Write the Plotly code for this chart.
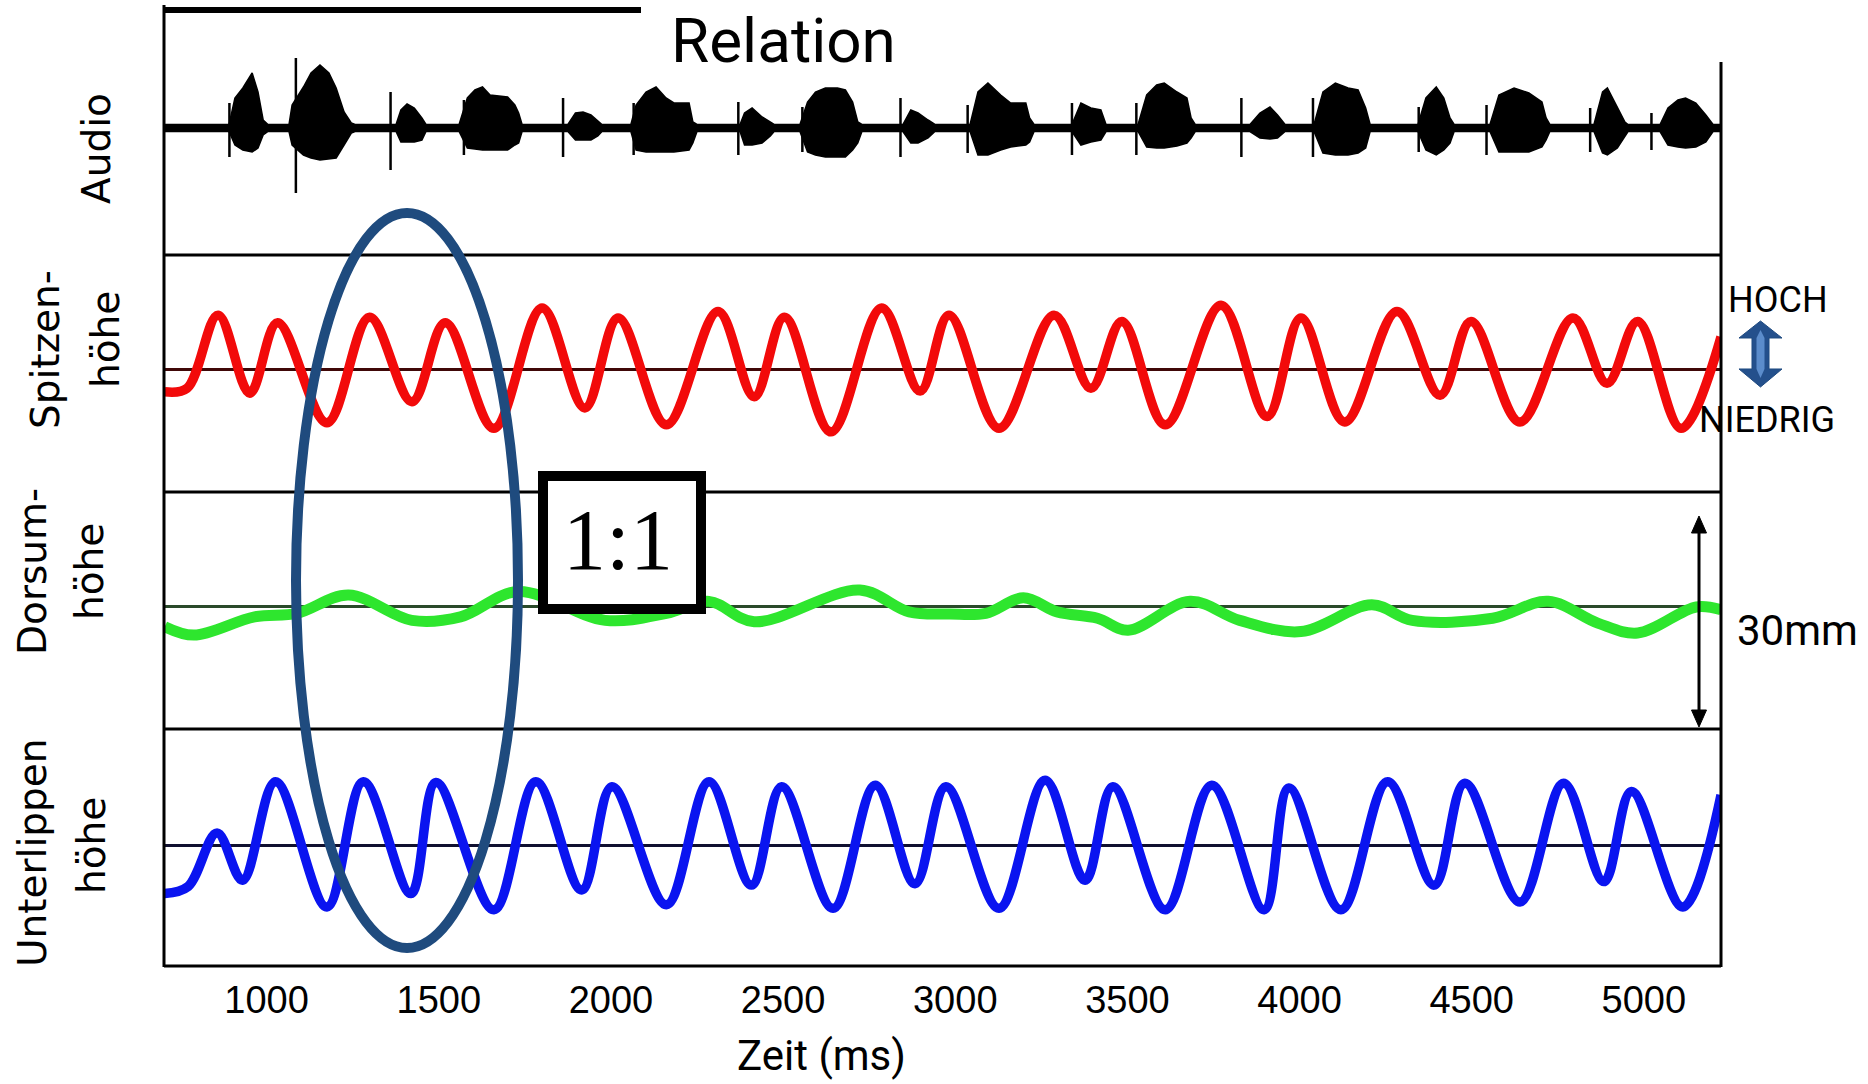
import plotly.graph_objects as go
from plotly.subplots import make_subplots

# ---------------- data ----------------
x_range = [702, 5224]                      # Zeit (ms)
x_ticks = [1000, 1500, 2000, 2500, 3000, 3500, 4000, 4500, 5000]

# Audio envelope (relative amplitude)
audio_t = [702,
           891, 908, 931, 958, 975, 990, 1004,
           1065, 1074, 1107, 1129, 1155, 1181, 1202, 1225, 1246, 1257,
           1376, 1390, 1408, 1429, 1451, 1463,
           1559, 1583, 1605, 1627, 1649, 1700, 1721, 1732, 1742,
           1875, 1897, 1919, 1942, 1962, 1974,
           2058, 2073, 2102, 2131, 2160, 2183, 2227, 2238, 2250,
           2375, 2388, 2410, 2439, 2463, 2474,
           2549, 2571, 2594, 2623, 2658, 2681, 2702, 2717, 2729,
           2848, 2871, 2892, 2921, 2941,
           3043, 3066, 3095, 3132, 3161, 3205, 3216, 3229,
           3339, 3365, 3394, 3423, 3438,
           3531, 3556, 3585, 3607, 3644, 3673, 3685, 3697,
           3856, 3885, 3914, 3936, 3958,
           4042, 4068, 4104, 4141, 4170, 4192, 4205,
           4344, 4367, 4397, 4419, 4437, 4449,
           4553, 4579, 4623, 4666, 4704, 4716, 4727,
           4855, 4880, 4894, 4923, 4945, 4954,
           5047, 5070, 5099, 5121, 5151, 5180, 5201,
           5224]
audio_hi = [0.035,
            0.035, 0.30, 0.40, 0.55, 0.36, 0.08, 0.035,
            0.035, 0.23, 0.41, 0.55, 0.63, 0.55, 0.40, 0.16, 0.05, 0.035,
            0.035, 0.18, 0.24, 0.20, 0.10, 0.035,
            0.035, 0.30, 0.38, 0.41, 0.33, 0.31, 0.23, 0.15, 0.035,
            0.035, 0.15, 0.16, 0.13, 0.07, 0.035,
            0.035, 0.23, 0.36, 0.41, 0.30, 0.25, 0.25, 0.06, 0.035,
            0.035, 0.15, 0.20, 0.11, 0.06, 0.035,
            0.035, 0.26, 0.36, 0.40, 0.40, 0.38, 0.26, 0.06, 0.035,
            0.035, 0.18, 0.15, 0.08, 0.035,
            0.035, 0.36, 0.45, 0.33, 0.25, 0.25, 0.10, 0.035,
            0.035, 0.25, 0.20, 0.18, 0.035,
            0.035, 0.33, 0.43, 0.45, 0.36, 0.30, 0.10, 0.035,
            0.035, 0.15, 0.21, 0.13, 0.035,
            0.035, 0.36, 0.45, 0.40, 0.38, 0.20, 0.035,
            0.035, 0.30, 0.41, 0.30, 0.10, 0.035,
            0.035, 0.33, 0.40, 0.35, 0.26, 0.10, 0.035,
            0.035, 0.36, 0.40, 0.20, 0.06, 0.035,
            0.035, 0.20, 0.28, 0.30, 0.25, 0.13, 0.035,
            0.035]
audio_lo = [-0.035,
            -0.035, -0.17, -0.22, -0.24, -0.20, -0.07, -0.035,
            -0.035, -0.17, -0.27, -0.30, -0.32, -0.31, -0.30, -0.17, -0.05, -0.035,
            -0.035, -0.14, -0.14, -0.14, -0.12, -0.035,
            -0.035, -0.20, -0.21, -0.22, -0.22, -0.22, -0.17, -0.15, -0.035,
            -0.035, -0.12, -0.12, -0.12, -0.08, -0.035,
            -0.035, -0.22, -0.24, -0.24, -0.24, -0.24, -0.22, -0.15, -0.035,
            -0.035, -0.17, -0.17, -0.15, -0.08, -0.035,
            -0.035, -0.24, -0.27, -0.29, -0.29, -0.29, -0.22, -0.15, -0.035,
            -0.035, -0.15, -0.15, -0.10, -0.035,
            -0.035, -0.27, -0.27, -0.22, -0.19, -0.17, -0.14, -0.035,
            -0.035, -0.17, -0.14, -0.12, -0.035,
            -0.035, -0.19, -0.20, -0.20, -0.18, -0.15, -0.10, -0.035,
            -0.035, -0.10, -0.11, -0.10, -0.035,
            -0.035, -0.25, -0.27, -0.27, -0.25, -0.20, -0.035,
            -0.035, -0.22, -0.27, -0.22, -0.15, -0.035,
            -0.035, -0.24, -0.24, -0.24, -0.19, -0.12, -0.035,
            -0.035, -0.25, -0.27, -0.20, -0.08, -0.035,
            -0.035, -0.17, -0.19, -0.20, -0.19, -0.14, -0.035,
            -0.035]

# Audio click spikes
spike_t = [892, 1085, 1360, 1573, 1861, 2066, 2370, 2556, 2841,
           3036, 3339, 3526, 3831, 4039, 4346, 4543, 4844, 5022]
spike_hi = [0.25, 0.70, 0.36, 0.28, 0.30, 0.25, 0.26, 0.21, 0.30,
            0.23, 0.25, 0.25, 0.30, 0.30, 0.21, 0.23, 0.20, 0.15]
spike_lo = [-0.29, -0.65, -0.42, -0.27, -0.29, -0.27, -0.27, -0.24, -0.29,
            -0.25, -0.27, -0.27, -0.29, -0.29, -0.24, -0.27, -0.24, -0.22]

# Zungenspitze (mm)
red_t = [704, 769, 859, 951, 1032, 1175, 1299, 1422, 1519, 1660, 1800, 1924,
         2021, 2161, 2311, 2416, 2504, 2639, 2786, 2898, 2982, 3127, 3287,
         3394, 3484, 3610, 3772, 3906, 4004, 4131, 4283, 4408, 4498, 4640,
         4794, 4893, 4982, 5108, 5224]
red_y = [-3.1, -2.6, 7.8, -3.3, 6.7, -7.5, 7.5, -4.5, 6.7, -8.3, 8.8, -5.4,
         7.4, -7.8, 8.3, -3.8, 7.5, -8.8, 8.8, -3.0, 7.8, -8.3, 7.8,
         -2.6, 6.9, -7.8, 9.2, -6.6, 7.4, -7.4, 8.3, -3.6, 6.9, -7.4,
         7.4, -1.9, 6.9, -8.3, 4.7]

# Zungendorsum (mm)
green_t = [704, 789, 965, 1088, 1238, 1422, 1563, 1730, 1983, 2161, 2285,
           2416, 2723, 2866, 2985, 3089, 3198, 3296, 3413, 3502, 3682, 3826,
           4004, 4210, 4327, 4561, 4722, 4866, 4982, 5152, 5224]
green_y = [-2.8, -4.0, -1.4, -0.9, 1.7, -1.9, -1.4, 2.2, -1.9, -0.9, 0.8,
           -2.1, 2.4, -0.7, -1.0, -0.9, 1.3, -0.7, -1.6, -3.3, 0.8, -1.9,
           -3.5, 0.3, -1.9, -1.6, 0.8, -2.3, -3.7, 0.0, -0.4]

# Unterlippe (mm)
blue_t = [704, 772, 856, 930, 1026, 1175, 1281, 1419, 1492, 1660, 1782, 1915,
          2003, 2161, 2285, 2408, 2496, 2645, 2768, 2883, 2973, 3127, 3261,
          3377, 3458, 3610, 3745, 3897, 3969, 4120, 4256, 4391, 4480, 4640,
          4767, 4884, 4964, 5113, 5224]
blue_y = [-6.9, -5.9, 1.7, -5.0, 9.0, -8.8, 9.0, -6.9, 8.9, -9.2, 9.0, -6.4,
          8.3, -8.5, 9.0, -5.7, 8.3, -9.0, 8.5, -5.5, 8.3, -9.0, 9.2,
          -5.0, 8.3, -9.2, 8.5, -9.2, 8.1, -9.2, 9.0, -5.7, 8.8, -8.1,
          8.8, -5.2, 7.6, -8.8, 7.1]

# ---------------- figure ----------------
W, H = 1868, 1084
L, R, T, B = 164, 1721, 18, 966


def px(x):
    return (x - L) / (R - L)


def py(y):
    return (B - y) / (B - T)


fig = make_subplots(rows=4, cols=1, shared_xaxes=True, vertical_spacing=0)

# audio
fig.add_trace(go.Scatter(x=audio_t, y=audio_hi, mode="lines",
                         line=dict(color="black", width=1.5)), row=1, col=1)
fig.add_trace(go.Scatter(x=audio_t, y=audio_lo, mode="lines", fill="tonexty",
                         fillcolor="black", line=dict(color="black", width=1.5)),
              row=1, col=1)
sx, sy = [], []
for t, hi, lo in zip(spike_t, spike_hi, spike_lo):
    sx += [t, t, None]
    sy += [hi, lo, None]
fig.add_trace(go.Scatter(x=sx, y=sy, mode="lines",
                         line=dict(color="black", width=2.5)), row=1, col=1)

fig.add_trace(go.Scatter(x=red_t, y=red_y, mode="lines",
                         line=dict(color="#f20a0a", width=9.5, shape="spline",
                                   smoothing=1.0)), row=2, col=1)
fig.add_trace(go.Scatter(x=green_t, y=green_y, mode="lines",
                         line=dict(color="#2ee62e", width=11, shape="spline",
                                   smoothing=1.0)), row=3, col=1)
fig.add_trace(go.Scatter(x=blue_t, y=blue_y, mode="lines",
                         line=dict(color="#0a14f0", width=9.5, shape="spline",
                                   smoothing=1.0)), row=4, col=1)

fig.update_xaxes(range=x_range, showgrid=False, zeroline=False, showline=False,
                 ticks="", tickvals=x_ticks,
                 tickfont=dict(family="Liberation Sans", size=38, color="black"))
fig.update_xaxes(ticklabelstandoff=8, row=4, col=1)

yranges = [[-1.27, 1.10], [-17.35, 16.35], [-17.35, 16.35], [-17.2, 16.5]]
zcolors = ["#000000", "#400808", "#2a4a2a", "#101030"]
for i in range(4):
    fig.update_yaxes(range=yranges[i], showgrid=False, showticklabels=False,
                     ticks="", showline=False, zeroline=True,
                     zerolinecolor=zcolors[i], zerolinewidth=2.5,
                     row=i + 1, col=1)

shapes = []
ln = dict(color="black", width=3)
shapes.append(dict(type="line", xref="paper", yref="paper",
                   x0=px(164), x1=px(164), y0=py(5), y1=py(967), line=ln))
shapes.append(dict(type="line", xref="paper", yref="paper",
                   x0=px(1721), x1=px(1721), y0=py(62), y1=py(967), line=ln))
for yy in [255, 492, 729, 966]:
    shapes.append(dict(type="line", xref="paper", yref="paper",
                       x0=px(164), x1=px(1721), y0=py(yy), y1=py(yy), line=ln))
shapes.append(dict(type="line", xref="paper", yref="paper",
                   x0=px(164), x1=px(641), y0=py(10), y1=py(10),
                   line=dict(color="black", width=6)))

# ellipse
shapes.append(dict(type="circle", xref="paper", yref="paper",
                   x0=px(296), x1=px(518), y0=py(948), y1=py(213),
                   line=dict(color="#1f4b7e", width=10), layer="above"))
# 1:1 box
shapes.append(dict(type="rect", xref="paper", yref="paper",
                   x0=px(543), x1=px(701), y0=py(609), y1=py(476),
                   fillcolor="white", line=dict(color="black", width=10),
                   layer="above"))


def path(points):
    s = "M " + " L ".join(f"{px(a):.5f},{py(b):.5f}" for a, b in points) + " Z"
    return s


# blue double arrow (HOCH / NIEDRIG)
cx = 1760.5
arrow = [(cx, 321), (cx + 21.5, 338), (cx + 8.5, 338), (cx + 8.5, 369),
         (cx + 21.5, 369), (cx, 387), (cx - 21.5, 369), (cx - 8.5, 369),
         (cx - 8.5, 338), (cx - 21.5, 338)]
shapes.append(dict(type="path", xref="paper", yref="paper", path=path(arrow),
                   fillcolor="#24508c", line=dict(color="#1f4a80", width=1)))
shapes.append(dict(type="path", xref="paper", yref="paper",
                   path=path([(cx, 330), (cx + 4, 338), (cx + 4, 369),
                              (cx, 378), (cx - 4, 369), (cx - 4, 338)]),
                   fillcolor="#5b8ccb", line=dict(width=0)))

# black 30 mm arrow
ax = 1699
shapes.append(dict(type="line", xref="paper", yref="paper",
                   x0=px(ax), x1=px(ax), y0=py(528), y1=py(715),
                   line=dict(color="black", width=3)))
shapes.append(dict(type="path", xref="paper", yref="paper",
                   path=path([(ax, 516), (ax + 7.5, 533), (ax - 7.5, 533)]),
                   fillcolor="black", line=dict(color="black", width=1)))
shapes.append(dict(type="path", xref="paper", yref="paper",
                   path=path([(ax, 727), (ax + 7.5, 710), (ax - 7.5, 710)]),
                   fillcolor="black", line=dict(color="black", width=1)))

ann = []


def text(t, x, y, size, family="Roboto", angle=0, xanchor="center"):
    ann.append(dict(text=t, x=px(x), y=py(y), xref="paper", yref="paper",
                    showarrow=False, textangle=angle, xanchor=xanchor,
                    yanchor="middle",
                    font=dict(family=family, size=size, color="black")))


text("Relation", 669, 40, 62, xanchor="left")
text("Zeit (ms)", 821, 1055, 42)
text("HOCH", 1778, 300, 36)
text("NIEDRIG", 1767, 420, 36)
text("30mm", 1797, 630, 42)
text("1:1", 618, 540, 86, family="Liberation Serif")

lab = "DejaVu Sans"
text("Audio", 96, 149, 39, family=lab, angle=-90)
text("Spitzen-", 45, 350, 39, family=lab, angle=-90)
text("höhe", 106, 340, 39, family=lab, angle=-90)
text("Dorsum-", 32, 572, 39, family=lab, angle=-90)
text("höhe", 89, 572, 39, family=lab, angle=-90)
text("Unterlippen", 32, 853, 39, family=lab, angle=-90)
text("höhe", 91, 846, 39, family=lab, angle=-90)

fig.update_layout(width=W, height=H, margin=dict(l=L, r=W - R, t=T, b=H - B),
                  paper_bgcolor="white", plot_bgcolor="white",
                  showlegend=False, shapes=shapes, annotations=ann)

fig.write_html("out.html")
